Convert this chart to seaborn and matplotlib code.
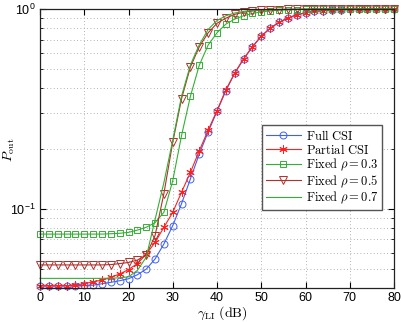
import matplotlib
matplotlib.use("Agg")
import matplotlib.pyplot as plt
import numpy as np
import pandas as pd
import seaborn as sns
from matplotlib.ticker import LogLocator, NullFormatter, FixedLocator

# gamma_LI in dB, one sample every 2 dB
gamma_db = list(range(0, 82, 2))

full_csi = [0.0410, 0.0410, 0.0410, 0.0410, 0.0411, 0.0412, 0.0413, 0.0420, 0.0427, 0.0435,
            0.0445, 0.0466, 0.0497, 0.0559, 0.0665, 0.0822, 0.106, 0.141, 0.188, 0.242,
            0.307, 0.390, 0.476, 0.561, 0.645, 0.730, 0.800, 0.857, 0.900, 0.935,
            0.958, 0.972, 0.982, 0.988, 0.992, 0.995, 0.997, 0.998, 0.9985, 0.999, 0.9993]
partial_csi = [0.0410, 0.0410, 0.0410, 0.0411, 0.0414, 0.0420, 0.0430, 0.0438, 0.0452, 0.0470,
               0.0495, 0.0530, 0.0590, 0.0677, 0.0806, 0.0958, 0.121, 0.152, 0.195, 0.247,
               0.310, 0.393, 0.478, 0.563, 0.647, 0.732, 0.801, 0.858, 0.901, 0.936,
               0.958, 0.972, 0.982, 0.988, 0.992, 0.995, 0.997, 0.998, 0.9985, 0.999, 0.9993]
fixed_03 = [0.0745, 0.0745, 0.0745, 0.0745, 0.0745, 0.0745, 0.0745, 0.0745, 0.0748, 0.0752,
            0.0760, 0.0780, 0.0806, 0.0850, 0.0958, 0.138, 0.233, 0.366, 0.523, 0.660,
            0.760, 0.840, 0.890, 0.925, 0.950, 0.967, 0.978, 0.986, 0.991, 0.994,
            0.996, 0.997, 0.998, 0.9985, 0.999, 0.999, 0.9993, 0.9995, 0.9995, 0.9996, 0.9997]
fixed_05 = [0.0522, 0.0522, 0.0522, 0.0522, 0.0522, 0.0522, 0.0522, 0.0522, 0.0524, 0.0530,
            0.0537, 0.0552, 0.0585, 0.0732, 0.119, 0.215, 0.356, 0.513, 0.647, 0.760,
            0.848, 0.900, 0.940, 0.963, 0.977, 0.986, 0.991, 0.994, 0.996, 0.997,
            0.998, 0.9985, 0.999, 0.999, 0.9993, 0.9995, 0.9995, 0.9996, 0.9997, 0.9997, 0.9998]
fixed_07 = [0.0447, 0.0447, 0.0447, 0.0447, 0.0447, 0.0447, 0.0447, 0.0447, 0.0448, 0.0450,
            0.0455, 0.0490, 0.0570, 0.0880, 0.135, 0.220, 0.367, 0.525, 0.662, 0.790,
            0.875, 0.925, 0.955, 0.972, 0.983, 0.990, 0.994, 0.996, 0.997, 0.998,
            0.9985, 0.999, 0.999, 0.9993, 0.9995, 0.9995, 0.9996, 0.9997, 0.9997, 0.9998, 0.9998]

labels = [r"$\mathrm{Full\ CSI}$", r"$\mathrm{Partial\ CSI}$",
          r"$\mathrm{Fixed}\ \rho = 0.3$", r"$\mathrm{Fixed}\ \rho = 0.5$",
          r"$\mathrm{Fixed}\ \rho = 0.7$"]

plt.rcParams["mathtext.fontset"] = "cm"
plt.rcParams["font.family"] = ["Liberation Sans", "DejaVu Sans"]

fig = plt.figure(figsize=(4.02, 3.22), dpi=100)
ax = fig.add_axes([40 / 402, 1 - 288 / 322, 354 / 402, 279 / 322])

styles = [
    (full_csi, "#4060f5", "o", 5, 0.8),
    (partial_csi, "#ff2020", (6, 2, 0), 6, 0.8),
    (fixed_03, "#33b033", "s", 4.2, 0.8),
    (fixed_05, "#b0302a", "v", 6, 0.8),
    (fixed_07, "#33b033", None, 0, 0.8),
]
for (vals, color, marker, ms, lw), label in zip(styles, labels):
    df = pd.DataFrame({"gamma": gamma_db, "pout": vals})
    kw = dict(marker=marker, markersize=ms, markerfacecolor="none",
              markeredgecolor=color, markeredgewidth=0.7) if marker else {}
    sns.lineplot(data=df, x="gamma", y="pout", ax=ax, color=color, linewidth=lw,
                 label=label, clip_on=False, **kw)

ax.set_yscale("log")
ax.set_xlim(0, 80)
ax.set_ylim(0.04, 1)
ax.set_xticks(range(0, 81, 10))
ax.yaxis.set_major_locator(FixedLocator([0.1, 1]))
ax.yaxis.set_minor_locator(LogLocator(base=10, subs=np.arange(2, 10)))
ax.yaxis.set_minor_formatter(NullFormatter())

grid_kw = dict(linestyle=(0, (1, 3)), color="#9a9a9a", linewidth=0.6)
ax.grid(True, which="major", **grid_kw)
ax.grid(True, which="minor", axis="y", **grid_kw)
ax.tick_params(which="both", direction="in", top=True, right=True, labelsize=9, pad=3)
ax.tick_params(which="major", length=4)
ax.tick_params(which="minor", length=2)
for sp in ax.spines.values():
    sp.set_linewidth(0.9)
    sp.set_color("#222222")

ax.set_xlabel(r"$\gamma_{\mathrm{LI}}\ \mathrm{(dB)}$", fontsize=10)
ax.set_ylabel(r"$P_{\mathrm{out}}$", fontsize=10)
ax.xaxis.set_label_coords(0.515, -0.058)
ax.yaxis.set_label_coords(-0.066, 0.495)

leg = ax.legend(loc="upper left", bbox_to_anchor=(0.627, 0.584), fontsize=9,
                frameon=True, fancybox=False, framealpha=1, edgecolor="#555555",
                handlelength=2.8, labelspacing=0.0, borderpad=0.3, handletextpad=0.4,
                borderaxespad=0)
leg.get_frame().set_linewidth(1.0)

fig.savefig("out.png", dpi=100)
